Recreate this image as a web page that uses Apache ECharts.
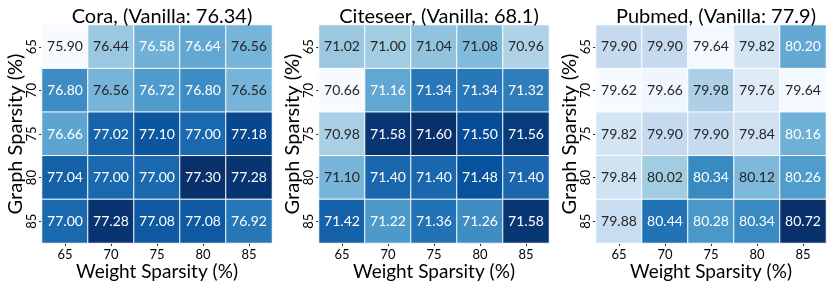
<!DOCTYPE html>
<html><head><meta charset="utf-8">
<script src="https://cdn.jsdelivr.net/npm/echarts@6/dist/echarts.min.js"></script>
<style>html,body{margin:0;padding:0;background:#fff}#c{width:830px;height:286px}</style>
</head><body><div id="c"></div>
<script>
const weightSparsity = ['65','70','75','80','85'];
const graphSparsity = ['65','70','75','80','85'];
const titles = ['Cora, (Vanilla: 76.34)','Citeseer, (Vanilla: 68.1)','Pubmed, (Vanilla: 77.9)'];
const cora = [
  [75.90,76.44,76.58,76.64,76.56],
  [76.80,76.56,76.72,76.80,76.56],
  [76.66,77.02,77.10,77.00,77.18],
  [77.04,77.00,77.00,77.30,77.28],
  [77.00,77.28,77.08,77.08,76.92]
];
const citeseer = [
  [71.02,71.00,71.04,71.08,70.96],
  [70.66,71.16,71.34,71.34,71.32],
  [70.98,71.58,71.60,71.50,71.56],
  [71.10,71.40,71.40,71.48,71.40],
  [71.42,71.22,71.36,71.26,71.58]
];
const pubmed = [
  [79.90,79.90,79.64,79.82,80.20],
  [79.62,79.66,79.98,79.76,79.64],
  [79.82,79.90,79.90,79.84,80.16],
  [79.84,80.02,80.34,80.12,80.26],
  [79.88,80.44,80.28,80.34,80.72]
];
const matrices = [cora, citeseer, pubmed];
const blues = ['#f7fbff','#deebf7','#c6dbef','#9ecae1','#6baed6','#4292c6','#2171b5','#08519c','#08306b'];
const FONT = 'Lato';

function hex2rgb(h){return [parseInt(h.slice(1,3),16),parseInt(h.slice(3,5),16),parseInt(h.slice(5,7),16)];}
function cmap(t){
  t=Math.max(0,Math.min(1,t));
  const p=t*(blues.length-1), i=Math.min(Math.floor(p),blues.length-2), f=p-i;
  const a=hex2rgb(blues[i]), b=hex2rgb(blues[i+1]);
  return a.map((v,k)=>v+(b[k]-v)*f);
}
function lum(rgb){
  const c=rgb.map(v=>{v/=255;return v<=0.03928?v/12.92:Math.pow((v+0.055)/1.055,2.4);});
  return 0.2126*c[0]+0.7152*c[1]+0.0722*c[2];
}

const gridLefts=[42,319,596], gridW=230, gridTop=25, gridH=218;
const grid=[],xAxis=[],yAxis=[],series=[],visualMap=[],title=[];
matrices.forEach((m,gi)=>{
  const flat=m.flat(); const mn=Math.min(...flat), mx=Math.max(...flat);
  grid.push({left:gridLefts[gi],top:gridTop,width:gridW,height:gridH});
  title.push({text:titles[gi],left:gridLefts[gi]+gridW/2,top:2,textAlign:'center',
    textStyle:{fontFamily:FONT,fontSize:20,fontWeight:'normal',color:'#000'}});
  xAxis.push({type:'category',gridIndex:gi,data:weightSparsity,
    name:'Weight Sparsity (%)',nameLocation:'middle',nameGap:19,nameMoveOverlap:false,
    nameTextStyle:{fontFamily:FONT,fontSize:19,color:'#000',overflow:'none',width:400},
    axisLine:{show:false},axisTick:{show:true,alignWithLabel:true,length:3,lineStyle:{color:'#333'}},
    axisLabel:{fontFamily:FONT,fontSize:13,color:'#000',margin:5},splitLine:{show:false}});
  yAxis.push({type:'category',gridIndex:gi,data:graphSparsity,inverse:true,
    name:'Graph Sparsity (%)',nameLocation:'middle',nameGap:16,nameRotate:90,nameMoveOverlap:false,
    nameTextStyle:{fontFamily:FONT,fontSize:20,color:'#000',overflow:'none',width:400},
    axisLine:{show:false},axisTick:{show:true,alignWithLabel:true,length:3,lineStyle:{color:'#333'}},
    axisLabel:{fontFamily:FONT,fontSize:13,color:'#000',rotate:90,margin:4},splitLine:{show:false}});
  const data=[];
  m.forEach((row,r)=>row.forEach((v,c)=>{
    const col=cmap((v-mn)/(mx-mn));
    data.push({value:[c,r,v],label:{color:lum(col)<0.408?'#ffffff':'#262626'}});
  }));
  visualMap.push({show:false,seriesIndex:gi,min:mn,max:mx,dimension:2,inRange:{color:blues}});
  series.push({type:'heatmap',xAxisIndex:gi,yAxisIndex:gi,data:data,
    itemStyle:{borderColor:'#ffffff',borderWidth:1},
    label:{show:true,fontFamily:FONT,fontSize:14,formatter:p=>p.value[2].toFixed(2)},
    emphasis:{disabled:true}});
});
const chart=echarts.init(document.getElementById('c'),null,{renderer:'canvas'});
chart.setOption({animation:false,title,grid,xAxis,yAxis,visualMap,series});
</script></body></html>
